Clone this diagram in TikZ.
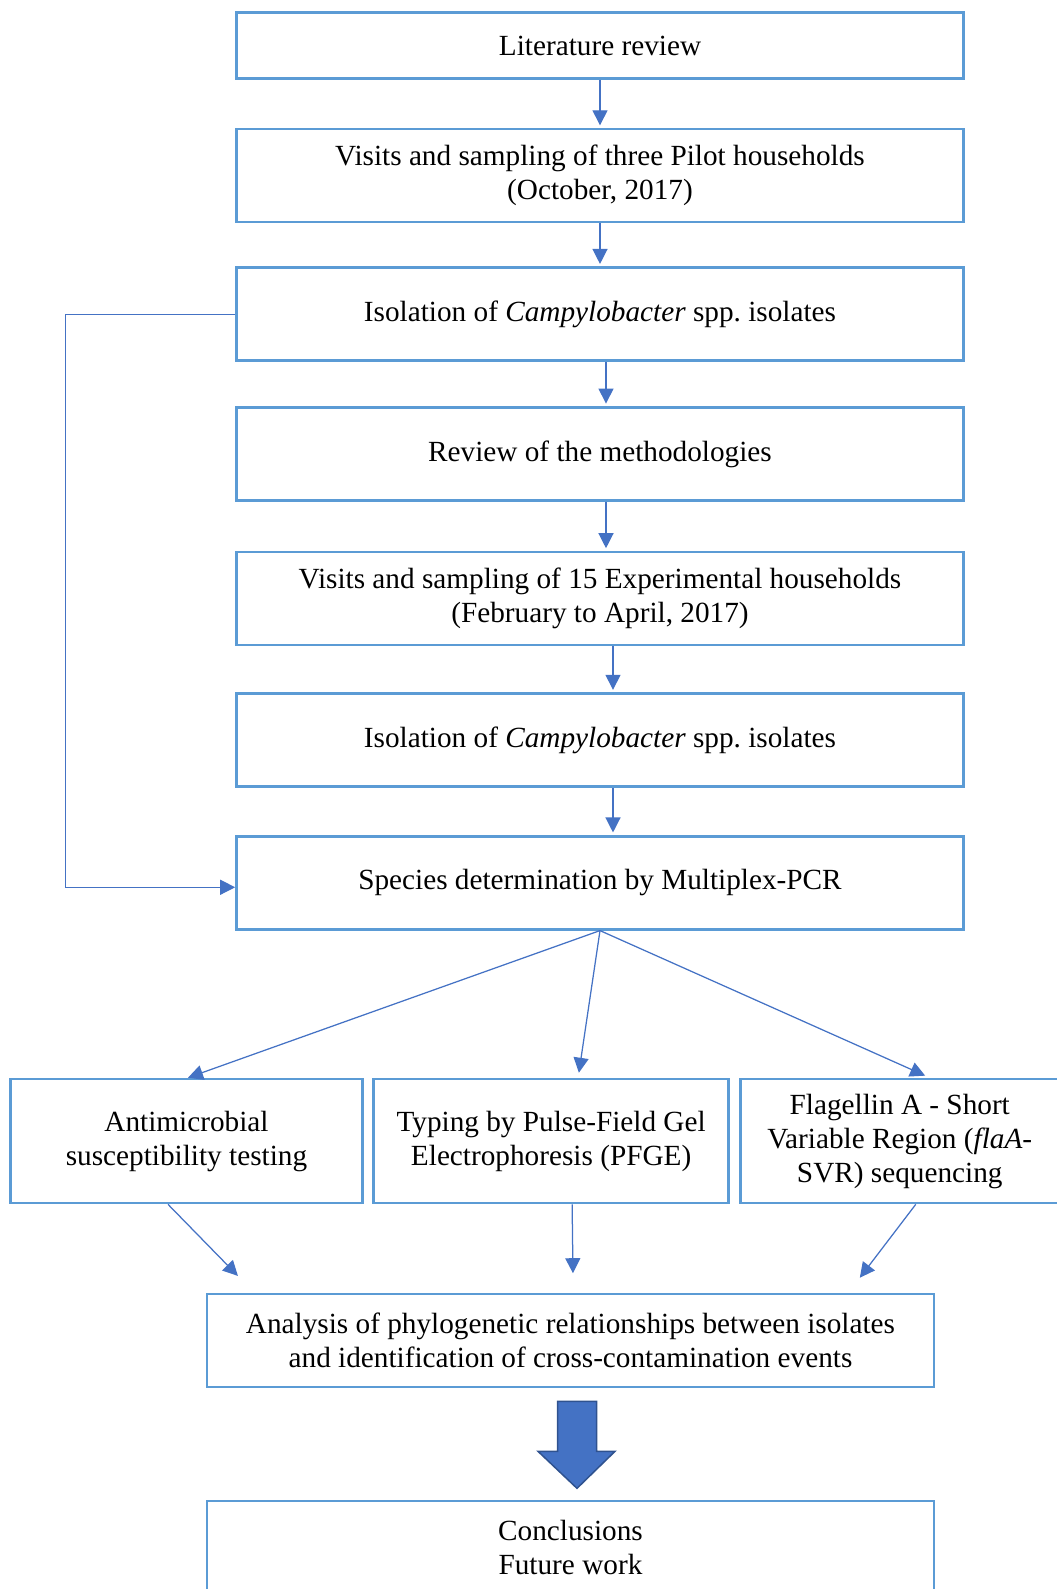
\documentclass[tikz,border=0pt]{standalone}
\usepackage{fontspec}
\setmainfont{Liberation Serif}
\usepackage{tikz}
\usetikzlibrary{positioning, arrows.meta, calc}
\definecolor{boxline}{RGB}{91,155,213}
\definecolor{arrline}{RGB}{68,114,196}
\definecolor{bigline}{RGB}{47,82,143}
\tikzset{
    box/.style={draw, color=boxline, line width=1.05pt, minimum width=290.8pt, minimum height=37.2pt, inner sep=2pt, align=center, text=black, font=\fontsize{11.7}{13.6}\selectfont},
    arr/.style={-{Triangle[length=6pt, width=6pt]}, line width=0.5pt, color=arrline, shorten >=1pt}
}

\begin{document}
\begin{tikzpicture}[x=0.4pt, y=-0.4pt]
    \useasboundingbox (0,0) rectangle (1057,1589);
    \node[box, minimum height=26.4pt] (lit) at (600,45.5) {Literature review};
    \node[box, below = 19.2pt of lit] (pilot) {Visits and sampling of three Pilot households\\(October, 2017)};
    \node[box, below = 17.2pt of pilot] (iso1) {Isolation of \textit{Campylobacter} spp.\ isolates};
    \node[box, below = 17.6pt of iso1] (review) {Review of the methodologies};
    \node[box, below = 19.6pt of review] (exp) {Visits and sampling of 15 Experimental households\\(February to April, 2017)};
    \node[box, below = 18.4pt of exp] (iso2) {Isolation of \textit{Campylobacter} spp.\ isolates};
    \node[box, below = 18.8pt of iso2] (species) {Species determination by Multiplex-PCR};
    \node[box, minimum width=140.8pt, minimum height=49.6pt] (anti) at (186.5,1141) {Antimicrobial\\susceptibility testing};
    \node[box, minimum width=142pt, minimum height=49.6pt, right = 3.4pt of anti] (typing) {Typing by Pulse-Field Gel\\Electrophoresis (PFGE)};
    \node[box, minimum width=127.2pt, minimum height=49.6pt, right = 3.8pt of typing] (flag) {Flagellin A - Short\\Variable Region (\textit{flaA}-\\SVR) sequencing};
    \node[box] (anal) at (570.5,1340.5) {Analysis of phylogenetic relationships between isolates\\and identification of cross-contamination events};
    \node[box, below = 44.6pt of anal] (concl) {Conclusions\\Future work};
    \draw[arr] (lit) -- (pilot);
    \draw[arr] (pilot) -- (iso1);
    \draw[arr] ([xshift=2.4pt]iso1.south) -- ([xshift=2.4pt]review.north);
    \draw[arr] ([xshift=2.4pt]review.south) -- ([xshift=2.4pt]exp.north);
    \draw[arr] ([xshift=5.2pt]exp.south) -- ([xshift=5.2pt]iso2.north);
    \draw[arr] ([xshift=5.2pt]iso2.south) -- ([xshift=5.2pt]species.north);
    \coordinate (fb) at ($(iso1.west)+(-170,0)$);
    \draw[arr, shorten >=0pt] (iso1.west) -- (fb) |- ([yshift=-1.8pt]species.west);
    \draw[arr, shorten >=0pt] (species.south) -- ([xshift=0.6pt]anti.north);
    \draw[arr, shorten >=2pt] (species.south) -- ([xshift=10.8pt]typing.north);
    \draw[arr, shorten >=2pt] (species.south) -- ([xshift=12pt]flag.north);
    \draw[arr] ([xshift=-7.4pt]anti.south) -- ($(anal.north west)+(34,-15)$);
    \draw[arr] ([xshift=8.4pt]typing.south) -- ($(anal.north)+(2.5,-17)$);
    \draw[arr] ([xshift=6.4pt]flag.south) -- ($(anal.north east)+(-77,-13)$);
    \coordinate (bt) at ($(anal.south)+(6.5,13)$);
    \draw[fill=arrline, draw=bigline, line width=0.6pt] ($(bt)+(-19.5,0)$) -- ($(bt)+(19.5,0)$) -- ($(bt)+(19.5,50)$) -- ($(bt)+(38,50)$) -- ($(bt)+(0,87)$) -- ($(bt)+(-39,50)$) -- ($(bt)+(-19.5,50)$) -- cycle;
\end{tikzpicture}
\end{document}
